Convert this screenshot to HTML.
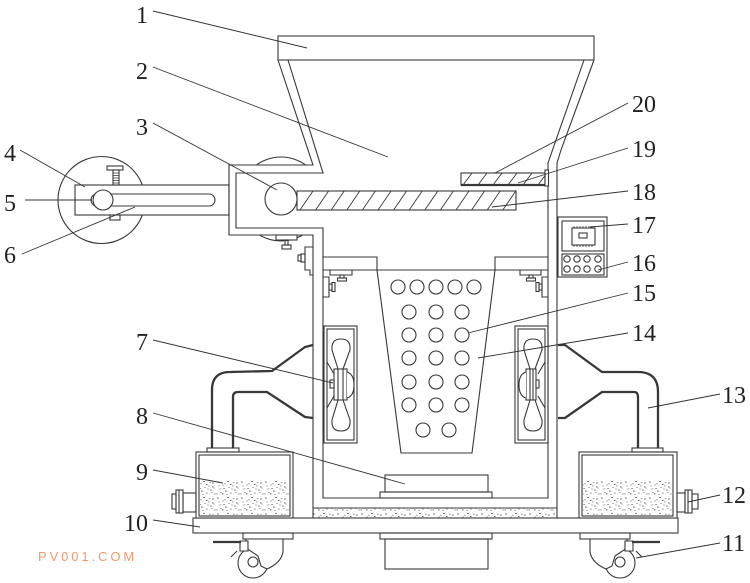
<!DOCTYPE html>
<html>
<head>
<meta charset="utf-8">
<style>
html,body{margin:0;padding:0;background:#fff;}
svg{display:block;}
.lbl{font-family:"Liberation Serif",serif;font-size:24px;fill:#222;}
.wm{font-family:"Liberation Sans",sans-serif;font-size:13px;letter-spacing:2.9px;fill:#f09a6c;}
</style>
</head>
<body>
<svg width="750" height="583" viewBox="0 0 750 583" xmlns="http://www.w3.org/2000/svg">
<defs>
  <pattern id="sand" width="24" height="16" patternUnits="userSpaceOnUse">
    <g fill="#3a3a3a">
      <circle cx="2" cy="2" r="0.65"/><circle cx="7" cy="5" r="0.55"/><circle cx="12" cy="1.5" r="0.65"/>
      <circle cx="17" cy="6" r="0.55"/><circle cx="21" cy="3" r="0.65"/><circle cx="4" cy="9" r="0.55"/>
      <circle cx="10" cy="11" r="0.65"/><circle cx="15" cy="13" r="0.55"/><circle cx="19" cy="10" r="0.65"/>
      <circle cx="23" cy="14" r="0.55"/><circle cx="1" cy="14" r="0.55"/><circle cx="13" cy="7.5" r="0.5"/>
      <circle cx="9" cy="3.5" r="0.5"/><circle cx="16" cy="9" r="0.5"/><circle cx="5" cy="12.5" r="0.5"/>
      <circle cx="22" cy="8" r="0.5"/><circle cx="18" cy="2.5" r="0.5"/><circle cx="11" cy="14.5" r="0.5"/>
      <circle cx="3" cy="6" r="0.45"/><circle cx="20" cy="12.5" r="0.45"/>
      <rect x="6" y="13.5" width="1.6" height="0.8"/><rect x="20" y="6.5" width="1.4" height="0.8"/>
      <rect x="14" y="4" width="1.5" height="0.8"/><rect x="7.5" y="8" width="1.2" height="0.8"/>
    </g>
  </pattern>
  <clipPath id="c18"><rect x="297" y="191" width="219" height="19"/></clipPath>
  <clipPath id="c20"><rect x="461" y="173" width="84" height="12"/></clipPath>
</defs>

<g fill="none" stroke="#383838" stroke-width="1.1">
  <!-- discs behind -->
  <circle cx="101.5" cy="200" r="43.5"/>
  <circle cx="281" cy="199" r="42"/>
  <rect x="229" y="165" width="106" height="70" fill="#fff" stroke="none"/>

  <!-- arm -->
  <rect x="75" y="185" width="154" height="30" fill="#fff"/>
  <rect x="91" y="194" width="124" height="12" rx="6"/>
  <circle cx="103" cy="200" r="10" fill="#fff"/>
  <rect x="107" y="166" width="16" height="4" fill="#fff"/>
  <rect x="113" y="170" width="6" height="15" fill="#fff"/>
  <path d="M113 173h6M113 175.5h6M113 178h6M113 180.5h6M113 183h6" stroke-width="0.8"/>
  <rect x="110" y="215" width="10" height="5" fill="#fff"/>

  <!-- hopper rim -->
  <rect x="278" y="36" width="316" height="24"/>
  <!-- left walls -->
  <polyline points="278,60 313,165 229,165 229,235 313,235 313,518"/>
  <polyline points="288,60 323,173 236,173 236,228 323,228 323,498 548,498 548,163 552.5,150 584,60"/>
  <!-- right outer -->
  <polyline points="594,60 561,150 557,163 557,518"/>

  <!-- bottom layer -->
  <rect x="313.5" y="508.5" width="243" height="9" fill="url(#sand)" stroke="none"/>
  <line x1="313" y1="508" x2="557" y2="508"/>
  <!-- base plate -->
  <rect x="193" y="518" width="485" height="15" fill="#fff"/>

  <!-- chamber top -->
  <polyline points="323,257 377,257 377,270"/>
  <polyline points="495,270 495,257 548,257"/>
  <line x1="323" y1="270" x2="548" y2="270"/>

  <!-- funnel -->
  <polyline points="377,270 401,453 472,453 495,270"/>
  <g>
    <circle cx="398" cy="287" r="7"/><circle cx="417" cy="287" r="7"/><circle cx="436" cy="287" r="7"/><circle cx="455" cy="287" r="7"/><circle cx="474" cy="287" r="7"/>
    <circle cx="409" cy="312" r="7"/><circle cx="436" cy="312" r="7"/><circle cx="462" cy="312" r="7"/>
    <circle cx="409" cy="335" r="7"/><circle cx="436" cy="335" r="7"/><circle cx="462" cy="335" r="7"/>
    <circle cx="409" cy="358" r="7"/><circle cx="436" cy="358" r="7"/><circle cx="462" cy="358" r="7"/>
    <circle cx="409" cy="382" r="7"/><circle cx="436" cy="382" r="7"/><circle cx="462" cy="382" r="7"/>
    <circle cx="409" cy="405" r="7"/><circle cx="436" cy="405" r="7"/><circle cx="462" cy="405" r="7"/>
    <circle cx="423" cy="430" r="7"/><circle cx="449" cy="430" r="7"/>
  </g>

  <!-- pedestal 8 -->
  <rect x="385" y="475" width="103" height="17"/>
  <rect x="380" y="492" width="112" height="6"/>
  <!-- under base -->
  <rect x="380" y="533" width="112" height="6"/>
  <rect x="385" y="539" width="103" height="30"/>

  <!-- fan boxes -->
  <rect x="324" y="326" width="33" height="117"/>
  <rect x="327" y="329" width="27" height="111"/>
  <rect x="515" y="326" width="33" height="117"/>
  <rect x="518" y="329" width="27" height="111"/>

  <!-- left fan -->
  <path d="M338,369 L332,350 Q331,339 341,339 Q351,339 350,350 L343,369"/>
  <path d="M338,400 L332,420 Q331,431 341,431 Q351,431 350,420 L343,400"/>
  <line x1="327" y1="362" x2="334" y2="374"/>
  <line x1="327" y1="408" x2="334" y2="396"/>
  <rect x="334" y="369" width="13" height="31" fill="#fff"/>
  <line x1="338" y1="369" x2="338" y2="400"/><line x1="343" y1="369" x2="343" y2="400"/>
  <path d="M347,372 Q354,374 354,385 Q354,396 347,398" fill="#fff"/>
  <rect x="330" y="380" width="4" height="8" fill="#fff"/>

  <!-- right fan -->
  <path d="M530,369 L524,350 Q523,339 533,339 Q543,339 542,350 L535,369"/>
  <path d="M530,400 L524,420 Q523,431 533,431 Q543,431 542,420 L535,400"/>
  <line x1="545" y1="362" x2="538" y2="374"/>
  <line x1="545" y1="408" x2="538" y2="396"/>
  <rect x="526" y="369" width="10" height="31" fill="#fff"/>
  <line x1="530" y1="369" x2="530" y2="400"/><line x1="533" y1="369" x2="533" y2="400"/>
  <path d="M526,372 Q519,374 519,385 Q519,396 526,398" fill="#fff"/>
  <rect x="536" y="380" width="3" height="8" fill="#fff"/>

  <!-- chamber corner clamps -->
  <polyline points="330,270 330,275 352,275 352,270"/>
  <rect x="340" y="275" width="4" height="3"/><rect x="337.5" y="278" width="9" height="3"/>
  <polyline points="323,277 329,277 329,297 323,297"/>
  <rect x="329" y="284" width="3" height="6"/><rect x="332" y="282.5" width="3" height="9"/>
  <polyline points="520,270 520,275 541,275 541,270"/>
  <rect x="529" y="275" width="4" height="3"/><rect x="526.5" y="278" width="9" height="3"/>
  <polyline points="548,277 542,277 542,297 548,297"/>
  <rect x="539" y="284" width="3" height="6"/><rect x="536" y="282.5" width="3" height="9"/>

  <!-- side box external clamps -->
  <rect x="276" y="235" width="21" height="5" fill="#fff"/>
  <rect x="285" y="240" width="3" height="5"/><rect x="282" y="245" width="9" height="4"/>
  <path d="M313,247 L305,247 L305,270 L310,270 L310,275 L313,275"/>
  <rect x="301" y="254" width="4" height="8"/><rect x="298" y="255" width="3" height="6"/>

  <!-- control panel -->
  <rect x="558" y="217" width="49" height="60"/>
  <rect x="562" y="221" width="42" height="30"/>
  <rect x="572" y="228" width="23" height="17"/>
  <rect x="579" y="233" width="8" height="5"/>
  <path d="M574 228v-2M577 228v-2M580 228v-2M583 228v-2M586 228v-2M589 228v-2M592 228v-2M574 245v2M577 245v2M580 245v2M583 245v2M586 245v2M589 245v2M592 245v2" stroke-width="0.8"/>
  <rect x="562" y="254" width="42" height="21"/>
  <circle cx="567" cy="259" r="3.2"/><circle cx="577" cy="259" r="3.2"/><circle cx="587" cy="259" r="3.2"/><circle cx="598" cy="259" r="3.2"/>
  <circle cx="567" cy="269" r="3.2"/><circle cx="577" cy="269" r="3.2"/><circle cx="587" cy="269" r="3.2"/><circle cx="598" cy="269" r="3.2"/>

  <!-- plate 18 -->
  <rect x="297" y="191" width="219" height="19" fill="#fff"/>
  <g clip-path="url(#c18)" stroke-width="0.9">
    <path d="M284.4,210L297.4,191M300,210L313,191M315.6,210L328.6,191M331.2,210L344.2,191M346.8,210L359.8,191M362.4,210L375.4,191M378,210L391,191M393.6,210L406.6,191M409.2,210L422.2,191M424.8,210L437.8,191M440.4,210L453.4,191M456,210L469,191M471.6,210L484.6,191M487.2,210L500.2,191M502.8,210L515.8,191"/>
  </g>
  <!-- motor 3 -->
  <circle cx="281" cy="199" r="16" fill="#fff"/>

  <!-- plate 20 -->
  <rect x="461" y="173" width="84" height="12" fill="#fff"/>
  <g clip-path="url(#c20)" stroke-width="0.9">
    <path d="M463,185L472,173M478,185L487,173M493,185L502,173M508,185L517,173M523,185L532,173M538,185L547,173"/>
  </g>
  <line x1="461" y1="185" x2="545" y2="185" stroke-width="2.2"/>
  <rect x="545" y="170" width="3.5" height="16" fill="#fff"/>

  <!-- tanks -->
  <rect x="196" y="452" width="97" height="66" fill="#fff"/>
  <rect x="200" y="480" width="89" height="35" fill="url(#sand)" stroke="none"/>
  <rect x="199" y="455" width="91" height="61"/>
  <rect x="207" y="448" width="32" height="4"/>
  <rect x="579" y="452" width="98" height="66" fill="#fff"/>
  <rect x="583" y="480" width="89" height="35" fill="url(#sand)" stroke="none"/>
  <rect x="582" y="455" width="91" height="61"/>
  <rect x="632" y="448" width="31" height="4"/>

  <!-- valves -->
  <rect x="183" y="493" width="13" height="19"/>
  <rect x="176" y="490" width="7" height="23"/>
  <rect x="172" y="494" width="4" height="15"/>
  <line x1="179" y1="490" x2="179" y2="513"/>
  <rect x="677" y="493" width="8" height="19"/>
  <rect x="685" y="490" width="7" height="23"/>
  <rect x="692" y="494" width="6" height="15"/>
  <line x1="688" y1="490" x2="688" y2="513"/>

  <!-- pipes -->
  <g stroke-width="2.3">
    <path d="M212,448 L212,390 Q212,372 230,372 L272,371 L305,347 L313,345"/>
    <path d="M233,448 L233,397 Q233,392 238,392 L267,392 L305,417 L313,418"/>
    <path d="M558,345 L565,345 L602,372 L638,372 Q658,372 658,392 L658,448"/>
    <path d="M558,418 L565,418 L602,392 L634,392 Q638,392 638,397 L638,448"/>
  </g>

  <!-- casters -->
  <g>
    <rect x="243" y="533" width="50" height="6" fill="#fff"/>
    <circle cx="253" cy="563" r="15" fill="#fff"/>
    <path d="M246,539 L283,539 L283,552 Q281,563 267,569 L261,566 L258,556 L246,548 Z" fill="#fff"/>
    <circle cx="253" cy="562" r="5" fill="#fff"/>
    <path d="M240,541 L248,541 L248,551 L240,551 Z" fill="#fff"/>
    <line x1="213" y1="542" x2="241" y2="542" stroke-width="2.2"/>
    <line x1="231" y1="557" x2="237" y2="551"/>
  </g>
  <g transform="translate(873,0) scale(-1,1)">
    <rect x="243" y="533" width="50" height="6" fill="#fff"/>
    <circle cx="253" cy="563" r="15" fill="#fff"/>
    <path d="M246,539 L283,539 L283,552 Q281,563 267,569 L261,566 L258,556 L246,548 Z" fill="#fff"/>
    <circle cx="253" cy="562" r="5" fill="#fff"/>
    <path d="M240,541 L248,541 L248,551 L240,551 Z" fill="#fff"/>
    <line x1="213" y1="542" x2="241" y2="542" stroke-width="2.2"/>
    <line x1="231" y1="557" x2="237" y2="551"/>
  </g>
</g>

<!-- leader lines -->
<g stroke="#333" stroke-width="0.9" fill="none">
  <line x1="153" y1="11" x2="307" y2="48"/>
  <line x1="153" y1="67" x2="388" y2="157"/>
  <line x1="153" y1="123" x2="277" y2="190"/>
  <line x1="20" y1="150" x2="85" y2="187"/>
  <line x1="25" y1="200" x2="92" y2="200"/>
  <line x1="22" y1="254" x2="135" y2="207"/>
  <line x1="153" y1="340" x2="333" y2="383"/>
  <line x1="153" y1="413" x2="405" y2="484"/>
  <line x1="153" y1="470" x2="223" y2="483"/>
  <line x1="153" y1="520" x2="200" y2="527"/>
  <line x1="720" y1="543" x2="636" y2="558"/>
  <line x1="720" y1="495" x2="688" y2="502"/>
  <line x1="720" y1="394" x2="648" y2="408"/>
  <line x1="628" y1="333" x2="478" y2="358"/>
  <line x1="628" y1="293" x2="468" y2="333"/>
  <line x1="628" y1="262" x2="598" y2="270"/>
  <line x1="628" y1="224" x2="590" y2="227"/>
  <line x1="628" y1="191" x2="492" y2="207"/>
  <line x1="628" y1="148" x2="518" y2="183"/>
  <line x1="628" y1="103" x2="495" y2="173"/>
</g>

<!-- labels -->
<text class="lbl" x="136" y="23">1</text>
<text class="lbl" x="136" y="79">2</text>
<text class="lbl" x="136" y="135">3</text>
<text class="lbl" x="4" y="161">4</text>
<text class="lbl" x="4" y="211">5</text>
<text class="lbl" x="4" y="263">6</text>
<text class="lbl" x="136" y="350">7</text>
<text class="lbl" x="136" y="424">8</text>
<text class="lbl" x="136" y="480">9</text>
<text class="lbl" x="124" y="531">10</text>
<text class="lbl" x="722" y="551">11</text>
<text class="lbl" x="722" y="503">12</text>
<text class="lbl" x="722" y="403">13</text>
<text class="lbl" x="632" y="341">14</text>
<text class="lbl" x="632" y="301">15</text>
<text class="lbl" x="632" y="271">16</text>
<text class="lbl" x="632" y="233">17</text>
<text class="lbl" x="632" y="200">18</text>
<text class="lbl" x="632" y="157">19</text>
<text class="lbl" x="632" y="112">20</text>

<text class="wm" x="38" y="561">PV001.COM</text>
</svg>
</body>
</html>
